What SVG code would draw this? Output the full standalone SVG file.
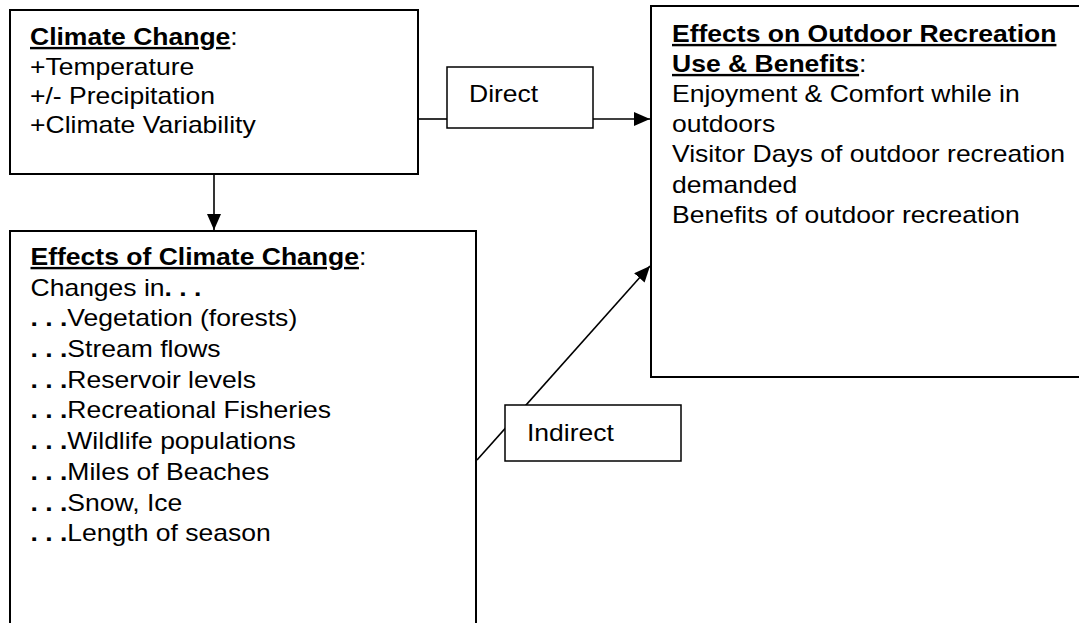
<svg xmlns="http://www.w3.org/2000/svg" width="1079" height="623" viewBox="0 0 1079 623">
<style>
.box{fill:#fff;stroke:#000;stroke-width:2}
.lbl{fill:#fff;stroke:#000;stroke-width:1.5}
.con{fill:none;stroke:#000;stroke-width:1.6}
text{font-family:"Liberation Sans",Arial,sans-serif;font-size:24px;fill:#000}
.b{font-weight:bold}
.u{font-weight:bold;text-decoration:underline}
</style>
<defs>
<marker id="ah" viewBox="0 0 16 14" refX="16" refY="7" markerWidth="16" markerHeight="14" markerUnits="userSpaceOnUse" orient="auto">
<path d="M0,0 L16,7 L0,14 z" fill="#000"/>
</marker>
</defs>
<rect width="1079" height="623" fill="#fff"/>
<g id="climate-change">
<rect class="box" x="10" y="10" width="408" height="164"/>
<g transform="translate(30,0) scale(1.105,1)">
<text x="0" y="45"><tspan class="u">Climate Change</tspan>:</text>
<text x="0" y="75">+Temperature</text>
<text x="0" y="104">+/- Precipitation</text>
<text x="0" y="133">+Climate Variability</text>
</g>
</g>
<g id="effects-of-climate-change">
<rect class="box" x="10" y="231" width="466" height="420"/>
<g transform="translate(30.5,0) scale(1.105,1)">
<text x="0" y="265"><tspan class="u">Effects of Climate Change</tspan>:</text>
<text x="0" y="295.7">Changes in<tspan class="b">. . .</tspan></text>
<text x="0" y="326.4"><tspan class="b">. . .</tspan>Vegetation (forests)</text>
<text x="0" y="357"><tspan class="b">. . .</tspan>Stream flows</text>
<text x="0" y="387.8"><tspan class="b">. . .</tspan>Reservoir levels</text>
<text x="0" y="418.5"><tspan class="b">. . .</tspan>Recreational Fisheries</text>
<text x="0" y="449.2"><tspan class="b">. . .</tspan>Wildlife populations</text>
<text x="0" y="480"><tspan class="b">. . .</tspan>Miles of Beaches</text>
<text x="0" y="510.6"><tspan class="b">. . .</tspan>Snow, Ice</text>
<text x="0" y="541.3"><tspan class="b">. . .</tspan>Length of season</text>
</g>
</g>
<g id="effects-on-outdoor-recreation">
<rect class="box" x="651" y="6" width="440" height="371"/>
<g transform="translate(672,0) scale(1.105,1)">
<text x="0" y="42"><tspan class="u">Effects on Outdoor Recreation</tspan></text>
<text x="0" y="72"><tspan class="u">Use &amp; Benefits</tspan>:</text>
<text x="0" y="102">Enjoyment &amp; Comfort while in</text>
<text x="0" y="132">outdoors</text>
<text x="0" y="162.5">Visitor Days of outdoor recreation</text>
<text x="0" y="193">demanded</text>
<text x="0" y="223">Benefits of outdoor recreation</text>
</g>
</g>
<g id="connectors">
<line class="con" x1="214" y1="174" x2="214" y2="230" marker-end="url(#ah)"/>
<line class="con" x1="418" y1="119" x2="447" y2="119"/>
<line class="con" x1="593" y1="119" x2="650" y2="119" marker-end="url(#ah)"/>
<line class="con" x1="477" y1="460" x2="650" y2="266" marker-end="url(#ah)"/>
</g>
<g id="direct">
<rect class="lbl" x="447" y="67" width="146" height="61"/>
<text x="469" y="102" transform="translate(469,0) scale(1.105,1) translate(-469,0)">Direct</text>
</g>
<g id="indirect">
<rect class="lbl" x="505" y="405" width="176" height="56"/>
<text x="527" y="441" transform="translate(527,0) scale(1.105,1) translate(-527,0)">Indirect</text>
</g>
</svg>
